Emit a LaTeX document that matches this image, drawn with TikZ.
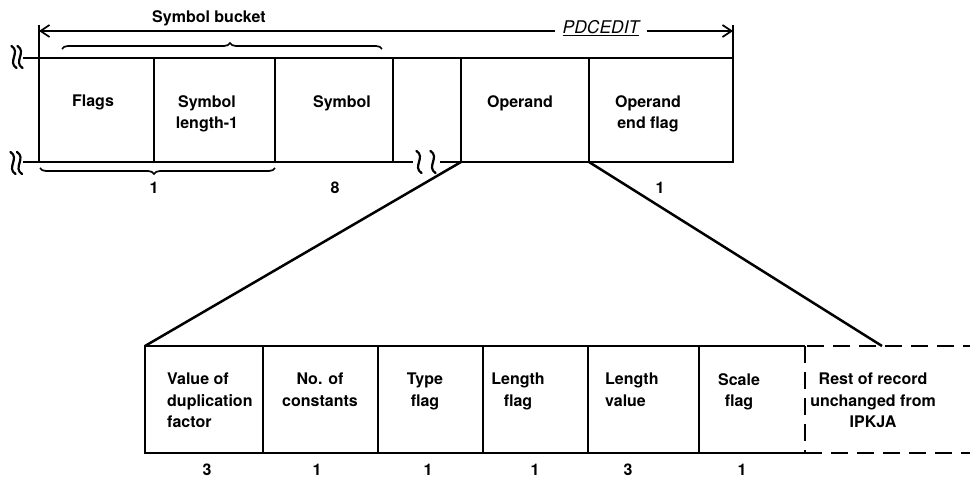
\documentclass[tikz,border=0pt]{standalone}
\usepackage{fontspec}
\setmainfont{TeX Gyre Heros}
\usetikzlibrary{arrows.meta,decorations.pathreplacing}
\begin{document}
\begin{tikzpicture}[x=1pt,y=-1pt,
  cell/.style={draw, line width=2.8pt, minimum height=104pt, inner sep=0pt, outer sep=0pt, anchor=north west},
  lowcell/.style={cell, minimum height=107pt},
  rule/.style={line width=2.8pt},
  fan/.style={line width=2.5pt},
  dashrule/.style={line width=2.8pt, dash pattern=on 17pt off 9pt},
  thinrule/.style={line width=1.7pt},
  barb/.style={thinrule, -{Straight Barb[length=9pt,width=12pt,line width=1.7pt]}},
  bracetop/.style={thinrule, decorate, decoration={brace, amplitude=6pt, aspect=0.525}},
  bracebot/.style={thinrule, decorate, decoration={brace, amplitude=6pt, aspect=0.515}},
  lbl/.style={font=\fontsize{16}{21.5}\selectfont\bfseries, align=center, anchor=north, inner sep=0pt},
  num/.style={font=\fontsize{16}{19}\selectfont\bfseries, inner sep=0pt},
  brkmark/.pic={\draw[line width=2.2pt, line cap=round] (-2.5,-11) .. controls (7,-5) and (-7,5) .. (2.5,11);}
]
\fill[white] (0,0) rectangle (970,478);
\useasboundingbox (0,0) rectangle (970,478);

% ---------- top record ----------
\node[cell, minimum width=115pt] (flags) at (39,58) {};
\node[cell, minimum width=121pt] (symlen) at (154,58) {};
\node[cell, minimum width=118pt] (sym) at (275,58) {};
\node[cell, draw=none, minimum width=68pt] (gap) at (393,58) {};
\node[cell, minimum width=128pt] (opnd) at (461,58) {};
\node[cell, minimum width=144pt] (opend) at (589,58) {};

\draw[rule] (gap.north west) -- (gap.north east);
\draw[rule] (gap.south west) -- ([xshift=20pt]gap.south west);
\draw[rule] ([xshift=-21pt]gap.south east) -- (gap.south east);
\pic at (419,162) {brkmark};
\pic at (433,162) {brkmark};

% left extensions and break marks
\coordinate (ltx) at (23,58);
\coordinate (lbx) at (23,162);
\draw[rule] (ltx) -- (flags.north west);
\draw[rule] (lbx) -- (flags.south west);
\pic at (14,57) {brkmark};
\pic at (20,57) {brkmark};
\pic at (13,163) {brkmark};
\pic at (19.5,163) {brkmark};

% PDCEDIT span
\coordinate (lv) at (39,25);
\coordinate (rv) at (733,25);
\coordinate (la) at (39,31);
\coordinate (ra) at (733,31);
\draw[rule] (lv) -- (flags.north west);
\draw[rule] (rv) -- (opend.north east);
\node[font=\fontsize{17.5}{20}\selectfont\itshape, inner sep=7pt] (pd) at (601,28) {\underline{PDCEDIT}};
\draw[barb] (pd.west |- la) -- (la);
\draw[barb] (pd.east |- ra) -- (ra);

% braces
\coordinate (sbA) at (62,49);
\coordinate (sbB) at (382,49);
\draw[bracetop] (sbA) -- (sbB);
\node[lbl] (sb) at (209,10) {Symbol bucket};
\coordinate (b1A) at (275,168);
\coordinate (b1B) at (40,168);
\draw[bracebot] (b1A) -- (b1B);

% top labels
\node[lbl] (tflags) at (93,95) {Flags};
\node[lbl] (tsymlen) at (207,95) {Symbol\\length-1};
\node[lbl] (tsym) at (342,95) {Symbol};
\node[lbl] (topnd) at (520,95) {Operand};
\node[lbl] (topend) at (648,95) {Operand\\end flag};

\node[num] (n1) at (154,188) {1};
\node[num] (n2) at (335,188) {8};
\node[num] (n3) at (660,188) {1};

% ---------- bottom record ----------
\node[lowcell, minimum width=118pt] (dup) at (145,346) {};
\node[lowcell, minimum width=115pt] (noc) at (263,346) {};
\node[lowcell, minimum width=105pt] (typ) at (378,346) {};
\node[lowcell, minimum width=105pt] (lenf) at (483,346) {};
\node[lowcell, minimum width=111pt] (lenv) at (588,346) {};
\node[lowcell, draw=none, minimum width=106pt] (scl) at (699,346) {};
\draw[rule] (scl.north east) -- (scl.north west) -- (scl.south west) -- (scl.south east);
\node[lowcell, draw=none, minimum width=175pt] (rest) at (805,346) {};
\draw[dashrule] (rest.north east) -- (rest.north west);
\draw[dashrule] (rest.north west) -- (rest.south west);
\draw[dashrule] (rest.south west) -- (rest.south east);

% expansion lines
\coordinate (fanend) at (882,346);
\draw[fan] (opnd.south west) -- (dup.north west);
\draw[fan] (opnd.south east) -- (fanend);

% bottom labels
\node[lbl, align=left, anchor=north west] (tdup) at (167,373) {Value of\\duplication\\factor};
\node[lbl] (tnoc) at (320,373) {No. of\\constants};
\node[lbl] (ttyp) at (425,373) {Type\\flag};
\node[lbl] (tlenf) at (518,373) {Length\\flag};
\node[lbl, align=left, anchor=north west] (tlenv) at (605,373) {Length\\value};
\node[lbl] (tscl) at (739,373) {Scale\\flag};
\node[lbl] (trest) at (873,373) {Rest of record\\unchanged from\\IPKJA};

\node[num] (m1) at (207,470) {3};
\node[num] (m2) at (317,470) {1};
\node[num] (m3) at (428,470) {1};
\node[num] (m4) at (535,470) {1};
\node[num] (m5) at (628,470) {3};
\node[num] (m6) at (742,470) {1};
\end{tikzpicture}
\end{document}
